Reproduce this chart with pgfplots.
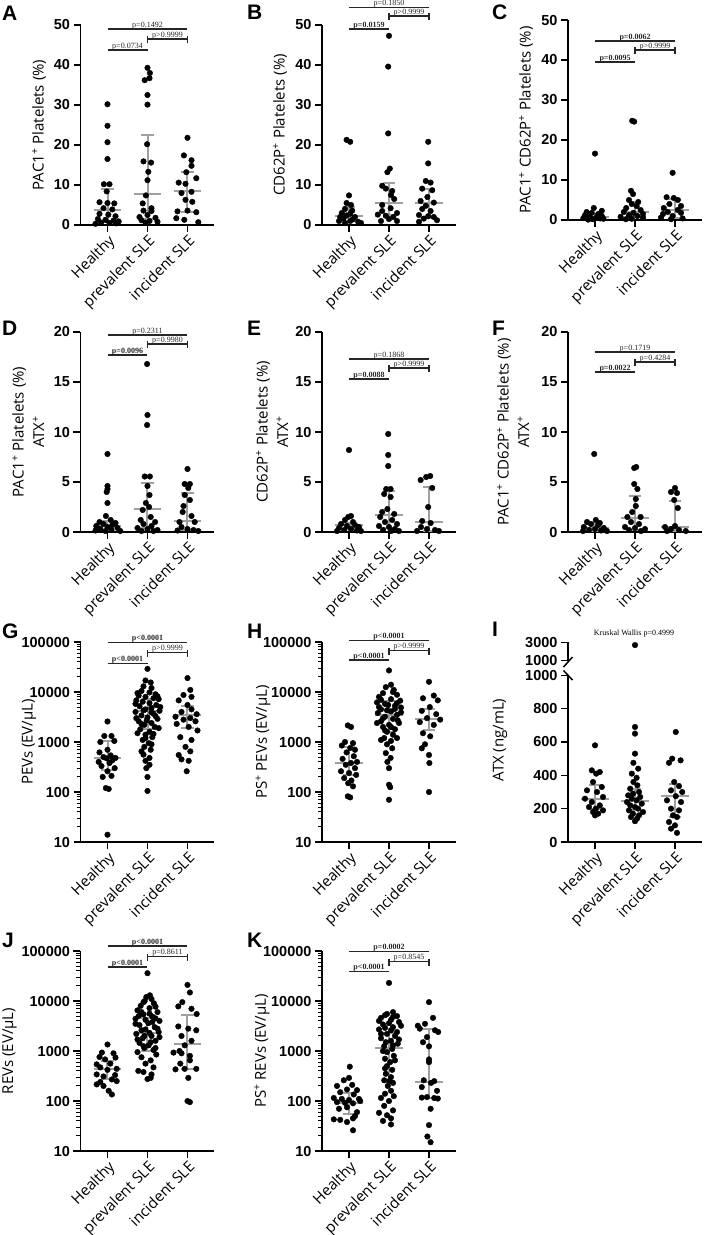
\documentclass[border=0pt]{standalone}
\usepackage{pgfplots}
\pgfplotsset{compat=1.18}
\usepackage{fontspec}
\setmainfont{Open Sans}
\newfontfamily\arialf{Liberation Sans}
\newfontfamily\timesf{Liberation Serif}
\newcommand\lab{\fontsize{15}{20.5}\selectfont}
\newcommand\tck{\arialf\bfseries\fontsize{14.5}{15}\selectfont}
\newcommand\ptxt{\timesf\fontsize{8}{9}\selectfont}
\newcommand\letf{\arialf\bfseries\fontsize{21}{21}\selectfont}
\definecolor{medgray}{RGB}{160,160,160}
\pgfplotsset{
 panel/.style={
   scale only axis, width=134pt, height=200pt, anchor=south west,
   xmin=-0.675, xmax=2.675, xtick={0,1,2},
   xticklabels={Healthy,prevalent SLE,incident SLE},
   axis x line*=bottom, axis y line*=left,
   axis line style={-, line width=1.5pt},
   major tick style={line width=1.5pt, black},
   minor tick style={line width=1pt, black},
   tick align=outside, major tick length=7pt, minor tick length=4pt,
   clip=false,
   xticklabel style={font=\lab, rotate=45, anchor=north east, inner sep=1pt},
   yticklabel style={font=\tck},
   ylabel style={font=\lab, anchor=center, align=center},
   /pgf/number format/assume math mode=true,
   /pgf/number format/1000 sep={},
 },
 logpanel/.style={panel, ymin=10, ymax=100000,
   ytick={10,100,1000,10000,100000},
   yticklabels={10,100,1000,10000,100000},
   minor ytick={20,30,40,50,60,70,80,90,200,300,400,500,600,700,800,900,2000,3000,4000,5000,6000,7000,8000,9000,20000,30000,40000,50000,60000,70000,80000,90000}},
 dots/.style={only marks, mark=*, mark size=2.8pt, black, mark options={draw=black, fill=black}},
 medline/.style={medgray, line width=2pt, mark=none},
}
\tikzset{sigline/.style={line width=1.3pt, black!85},
 ptx/.style={font=\ptxt, inner sep=0pt, anchor=base, yshift=1.8pt}}
\newcommand{\mq}[4]{%
 \pgfmathsetmacro\qa{#1-0.34}\pgfmathsetmacro\qb{#1+0.34}%
 \pgfmathsetmacro\qc{#1-0.16}\pgfmathsetmacro\qd{#1+0.16}%
 \edef\doit{%
 \noexpand\addplot[medline] coordinates {(\qc,#3) (\qd,#3)};%
 \noexpand\addplot[medline] coordinates {(\qc,#4) (\qd,#4)};%
 \noexpand\addplot[medline] coordinates {(#1,#3) (#1,#4)};%
 \noexpand\addplot[medline] coordinates {(\qa,#2) (\qb,#2)};%
 }\doit}
\newcommand{\sig}[6]{%
 \draw[sigline] (rel axis cs:0.2015,#1) -- node[ptx]{#4} (rel axis cs:0.7985,#1);
 \draw[sigline] (rel axis cs:0.5,#2) -- node[ptx]{#5} (rel axis cs:0.7985,#2);
 \draw[sigline] ([yshift=-4pt]rel axis cs:0.5,#2) -- ([yshift=3pt]rel axis cs:0.5,#2);
 \draw[sigline] ([yshift=-4pt]rel axis cs:0.7985,#2) -- ([yshift=3pt]rel axis cs:0.7985,#2);
 \draw[sigline] (rel axis cs:0.2015,#3) -- node[ptx]{#6} (rel axis cs:0.5,#3);
}
\begin{document}
\begin{tikzpicture}
\useasboundingbox (0,0) rectangle (704pt,-1235pt);
% ---------------- A
\begin{axis}[panel, at={(80.5pt,-225pt)}, ymin=0, ymax=50, ytick={0,10,...,50},
 ylabel={PAC1\textsuperscript{+} Platelets (\%)}, ylabel style={at={(axis description cs:-0.31,0.5)}}]
\addplot[dots] coordinates {(0,30.2)(0,24.8)(0,20.7)(0,16.5)(-0.09,10.2)(0.05,10.2)(-0.02,8.4)(-0.2,5.7)(0.0,5.5)(0.17,5.4)(-0.1,4.2)(0.12,3.9)(-0.2,2.8)(0.02,2.6)(0.2,2.2)(-0.24,1.5)(-0.05,1.3)(0.15,1.1)(0.28,0.9)(-0.16,0.6)(0.05,0.5)(0.22,0.4)(-0.3,0.3)};
\addplot[dots] coordinates {(1,39.3)(1.06,38.0)(0.93,36.2)(1.05,36.7)(1,32.5)(1,30.1)(0.99,20.2)(0.9,15.9)(1.09,15.6)(1.02,13.3)(1,11.2)(0.96,7.4)(0.88,5.4)(1.1,4.2)(0.9,3.6)(1.1,3.5)(1.0,2.5)(0.8,2.0)(1.2,1.8)(0.85,1.2)(1.05,1.0)(1.25,0.8)(0.95,0.6)};
\addplot[dots] coordinates {(2,21.8)(1.91,17.4)(2.1,16.2)(2.1,14.8)(1.97,13.2)(2.22,11.7)(1.78,10.6)(1.95,10.3)(2.1,8.3)(1.85,8.0)(1.95,6.3)(2.12,5.8)(1.75,3.4)(2.0,3.6)(2.22,3.2)(1.72,1.7)(1.92,1.3)(2.27,0.7)};
\mq{0}{3.7}{0.8}{8.9}\mq{1}{7.7}{1.5}{22.6}\mq{2}{8.6}{3.3}{13.2}
\sig{0.98}{0.93}{0.875}{p=0.1492}{p>0.9999}{p=0.0734}
\end{axis}
% ---------------- B
\begin{axis}[panel, at={(322pt,-225pt)}, ymin=0, ymax=50, ytick={0,10,...,50},
 ylabel={CD62P\textsuperscript{+} Platelets (\%)}, ylabel style={at={(axis description cs:-0.313,0.5)}}]
\addplot[dots] coordinates {(-0.06,21.3)(0.03,20.8)(0,7.4)(-0.06,5.5)(0.05,5.0)(-0.1,4.0)(0.08,3.6)(-0.18,3.0)(0.03,2.8)(-0.06,2.4)(-0.22,2.0)(0.15,2.0)(-0.14,1.6)(0.1,1.4)(-0.25,1.0)(0.03,1.0)(0.23,0.8)(-0.1,0.5)(0.3,0.5)};
\addplot[dots] coordinates {(1,47.3)(0.98,39.6)(0.98,22.9)(1.02,14.1)(0.96,13.2)(0.83,9.8)(0.92,9.1)(1.08,8.5)(1.05,7.5)(1.13,6.5)(0.83,5.0)(1.04,4.2)(0.83,3.5)(1.2,3.0)(0.72,2.6)(0.92,2.3)(1.11,2.0)(1.0,1.5)(0.8,1.0)(1.2,1.0)};
\addplot[dots] coordinates {(1.98,20.8)(1.98,15.4)(1.92,11.0)(2.04,10.6)(1.83,9.1)(2.08,8.7)(1.96,7.0)(1.79,6.0)(2.12,5.6)(1.92,4.8)(1.83,4.0)(2.04,3.5)(1.75,2.5)(1.98,2.2)(2.12,2.0)(1.87,1.6)(2.2,1.2)(1.75,0.8)};
\mq{0}{2.3}{1.7}{4.4}\mq{1}{5.6}{2.6}{10.5}\mq{2}{5.6}{1.8}{9.0}
\sig{1.087}{1.045}{0.98}{p=0.1850}{p>0.9999}{\textbf{p=0.0159}}
\end{axis}
% ---------------- C
\begin{axis}[panel, at={(568pt,-220pt)}, ymin=0, ymax=50, ytick={0,10,...,50},
 ylabel={PAC1\textsuperscript{+} CD62P\textsuperscript{+} Platelets (\%)}, ylabel style={at={(axis description cs:-0.313,0.5)}}]
\addplot[dots] coordinates {(0,16.6)(-0.03,3.0)(0.17,2.3)(-0.21,2.0)(-0.08,1.8)(0.08,1.5)(-0.25,1.2)(0.17,1.0)(-0.13,0.8)(0.03,0.6)(-0.29,0.5)(0.21,0.3)(-0.06,0.2)(-0.17,0.1)(0.13,0.4)};
\addplot[dots] coordinates {(0.93,24.8)(0.98,24.6)(0.9,7.3)(0.95,6.5)(0.85,5.0)(1.08,4.5)(0.92,4.0)(1.04,3.5)(0.78,3.0)(1.14,2.5)(0.72,2.0)(0.96,1.8)(1.2,1.5)(0.85,1.2)(1.06,1.0)(0.64,0.8)(1.2,0.6)(0.92,0.3)(0.77,0.2)};
\addplot[dots] coordinates {(1.94,11.8)(1.79,5.7)(1.97,5.5)(2.07,5.0)(1.86,4.0)(2.15,3.5)(1.72,3.0)(2.07,2.5)(1.82,2.0)(2.15,1.8)(1.7,1.5)(1.94,1.0)(1.65,0.6)(2.19,0.4)(1.9,0.2)};
\mq{0}{0.8}{0.3}{1.6}\mq{1}{2.0}{0.7}{4.5}\mq{2}{2.5}{0.5}{5.3}
\sig{0.895}{0.85}{0.79}{\textbf{p=0.0062}}{p>0.9999}{\textbf{p=0.0095}}
\end{axis}
% ---------------- D
\begin{axis}[panel, at={(80.5pt,-532pt)}, ymin=0, ymax=20, ytick={0,5,...,20},
 ylabel={PAC1\textsuperscript{+} Platelets (\%)\\ATX\textsuperscript{+}}, ylabel style={at={(axis description cs:-0.39,0.5)}}]
\addplot[dots] coordinates {(0,7.8)(0,4.6)(0,4.3)(-0.02,4.0)(0,2.9)(-0.04,1.6)(0.08,1.2)(-0.2,1.0)(0.2,0.9)(-0.1,0.8)(0.12,0.7)(-0.28,0.6)(0.0,0.5)(0.25,0.4)(-0.18,0.3)(0.1,0.2)(-0.05,0.1)(0.32,0.1)(-0.3,0.15)};
\addplot[dots] coordinates {(0.99,16.8)(1,11.7)(0.99,10.7)(0.93,5.55)(1.06,5.55)(1,4.6)(1.05,3.7)(0.96,2.9)(1.04,2.5)(0.88,2.2)(1.08,1.5)(0.83,1.2)(1.19,1.0)(0.9,0.8)(1.1,0.6)(0.75,0.4)(1.0,0.3)(1.25,0.2)(0.85,0.1)(1.15,0.1)};
\addplot[dots] coordinates {(2,6.3)(1.93,4.8)(2.06,4.8)(2.02,4.4)(1.93,3.7)(2.06,3.2)(1.9,2.6)(1.88,2.0)(2.1,1.6)(1.8,1.0)(2.18,1.0)(1.85,0.5)(2.0,0.3)(2.15,0.2)(2.27,0.1)(1.75,0.15)};
\mq{0}{0.65}{0.25}{1.1}\mq{1}{2.3}{0.4}{4.9}\mq{2}{1.1}{0.2}{3.9}
\sig{0.985}{0.94}{0.885}{p=0.2311}{p=0.9980}{\textbf{p=0.0096}}
\end{axis}
% ---------------- E
\begin{axis}[panel, at={(322pt,-532pt)}, ymin=0, ymax=20, ytick={0,5,...,20},
 ylabel={CD62P\textsuperscript{+} Platelets (\%)\\ATX\textsuperscript{+}}, ylabel style={at={(axis description cs:-0.373,0.5)}}]
\addplot[dots] coordinates {(0,8.2)(0.05,1.6)(-0.02,1.5)(-0.1,1.2)(0.1,1.0)(-0.2,0.8)(0.15,0.7)(-0.05,0.6)(0.25,0.5)(-0.25,0.4)(0.05,0.3)(-0.12,0.2)(0.2,0.15)(-0.3,0.1)(0.3,0.1)};
\addplot[dots] coordinates {(0.98,9.8)(0.98,7.7)(0.98,6.6)(0.93,4.3)(1.04,4.3)(0.88,3.8)(1.04,3.5)(0.96,2.3)(0.83,2.0)(1.13,1.8)(0.78,1.5)(1.08,1.2)(0.9,1.0)(1.2,0.8)(0.75,0.6)(1.0,0.5)(1.15,0.3)(0.85,0.2)(1.05,0.1)(1.25,0.1)};
\addplot[dots] coordinates {(1.93,5.5)(2.03,5.6)(1.79,5.2)(2.08,4.4)(1.98,2.5)(1.83,1.1)(2.04,0.9)(1.8,0.5)(1.95,0.3)(2.15,0.2)(2.25,0.1)(1.7,0.1)};
\mq{0}{0.7}{0.3}{0.9}\mq{1}{1.7}{0.4}{4.1}\mq{2}{1.0}{0.15}{4.5}
\sig{0.865}{0.82}{0.765}{p=0.1868}{p>0.9999}{\textbf{p=0.0088}}
\end{axis}
% ---------------- F
\begin{axis}[panel, at={(568pt,-532pt)}, ymin=0, ymax=20, ytick={0,5,...,20},
 ylabel={PAC1\textsuperscript{+} CD62P\textsuperscript{+} Platelets (\%)\\ATX\textsuperscript{+}}, ylabel style={at={(axis description cs:-0.41,0.5)}}]
\addplot[dots] coordinates {(-0.02,7.8)(0.02,1.2)(-0.2,1.0)(0.12,0.9)(-0.1,0.8)(0.08,0.7)(-0.28,0.5)(0.22,0.4)(0.0,0.3)(-0.15,0.2)(0.15,0.15)(0.3,0.1)(-0.3,0.1)};
\addplot[dots] coordinates {(0.98,6.4)(1.03,6.5)(0.98,4.8)(1.06,4.3)(1.02,3.3)(1.02,2.6)(0.93,2.0)(0.81,1.5)(1.14,1.5)(0.9,1.0)(1.1,0.8)(0.75,0.5)(1.0,0.4)(1.25,0.3)(0.85,0.2)(1.15,0.1)};
\addplot[dots] coordinates {(2,4.4)(1.9,4.0)(2.05,3.9)(1.98,3.2)(2.07,2.4)(1.75,0.5)(1.9,0.3)(2.1,0.2)(2.27,0.1)(2.0,0.6)(1.8,0.1)};
\mq{0}{0.4}{0.15}{0.9}\mq{1}{1.4}{0.2}{3.6}\mq{2}{0.5}{0.1}{3.1}
\sig{0.9}{0.85}{0.8}{p=0.1719}{p=0.4284}{\textbf{p=0.0022}}
\end{axis}
% ---------------- G
\begin{axis}[logpanel, ymode=log, at={(80.5pt,-842pt)},
 ylabel={PEVs (EV/µL)}, ylabel style={at={(axis description cs:-0.384,0.5)}}]
\addplot[dots] coordinates {(0,2570)(-0.08,1320)(0.1,1320)(-0.18,1000)(0.17,1050)(0,700)(-0.2,620)(0.08,540)(-0.1,500)(0.2,480)(-0.02,470)(0.12,430)(-0.22,400)(0.05,380)(-0.15,330)(0.18,300)(0.0,260)(-0.12,200)(0.1,210)(-0.04,120)(0.03,115)(0,14)};
\addplot[dots] coordinates {(1,29000)(0.95,17000)(1.08,15500)(0.9,13000)(1.1,12000)(0.85,10500)(1.05,9800)(1.2,9000)(0.78,8500)(0.95,8000)(1.15,7500)(1.28,7200)(0.72,6800)(0.88,6400)(1.05,6000)(1.22,5500)(0.8,5200)(1.1,4800)(0.95,4500)(1.3,4200)(0.7,4000)(1.15,3700)(0.85,3400)(1.0,3100)(1.25,2900)(0.78,2600)(1.1,2400)(0.92,2200)(1.18,2000)(0.82,1800)(1.05,1600)(0.95,1400)(1.12,1250)(0.88,1100)(1.03,950)(0.92,800)(1.08,700)(0.9,560)(1.05,480)(0.95,420)(1.05,350)(0.97,300)(1,200)(1,105)(0.75,9500)(1.25,8200)(0.7,5800)(1.32,5000)(0.9,4300)(1.1,3900)(0.72,3000)(1.2,3300)(0.98,2700)(0.85,2300)(1.28,1900)(0.75,1500)(1.15,1450)(0.95,1200)(1.1,900)(0.85,650)};
\addplot[dots] coordinates {(2,19000)(2.07,11000)(1.9,8700)(2.1,8000)(1.78,6800)(2,5500)(2.1,4500)(1.85,4000)(2.23,3600)(1.7,3200)(2.07,3000)(1.9,2800)(2.2,2600)(1.73,2300)(2.03,2000)(2.25,1700)(1.82,1250)(2.1,1100)(1.95,800)(2.07,650)(1.78,550)(1.85,450)(2.03,420)(1.98,260)};
\mq{0}{490}{280}{1070}\mq{1}{4200}{1780}{7400}\mq{2}{3400}{1900}{5300}
\sig{0.997}{0.947}{0.893}{\textbf{p<0.0001}}{p>0.9999}{\textbf{p<0.0001}}
\end{axis}
% ---------------- H
\begin{axis}[logpanel, ymode=log, at={(322pt,-842pt)},
 ylabel={PS\textsuperscript{+} PEVs (EV/µL)}, ylabel style={at={(axis description cs:-0.44,0.5)}}]
\addplot[dots] coordinates {(-0.03,2150)(0.05,2000)(-0.1,1000)(0.1,950)(-0.18,850)(0.03,760)(0.15,700)(-0.06,620)(0.12,520)(-0.16,460)(0.2,400)(0.05,380)(-0.08,350)(0.15,300)(-0.2,260)(0,240)(0.18,220)(-0.12,190)(0.06,170)(-0.02,150)(0.1,130)(-0.03,82)(0.03,78)};
\addplot[dots] coordinates {(1,27000)(1.05,14000)(0.92,12500)(1.12,11000)(0.85,9500)(1.2,8800)(0.75,8000)(1.05,7200)(1.28,6700)(0.7,6200)(0.9,5800)(1.15,5300)(1.3,4900)(0.8,4500)(1.05,4100)(0.72,3800)(1.2,3500)(0.9,3200)(1.1,2900)(0.8,2600)(1.25,2400)(1,2200)(0.85,2000)(1.15,1800)(0.95,1600)(1.1,1400)(0.88,1200)(1.05,1050)(0.95,900)(1.08,750)(0.92,600)(1.04,480)(0.96,400)(1,300)(1,140)(1.03,125)(1,70)(1.1,10000)(0.8,7000)(1.2,6000)(0.98,5500)(0.75,5000)(1.15,4600)(0.95,4300)(1.3,3900)(0.85,3000)(1.22,2700)(0.7,2400)(1.05,2000)(0.9,1700)(1.2,1200)(0.8,1100)};
\addplot[dots] coordinates {(2,16000)(2.12,8500)(1.85,7500)(2.22,6800)(2.02,5000)(1.82,4200)(2.18,3600)(1.95,3000)(2.28,2800)(1.77,2500)(2.12,2200)(1.85,1500)(2.03,1300)(1.9,900)(1.82,750)(2,550)(2.01,380)(2,100)};
\mq{0}{380}{220}{780}\mq{1}{3500}{1600}{6500}\mq{2}{2900}{1700}{4500}
\sig{1.007}{0.957}{0.91}{\textbf{p<0.0001}}{p>0.9999}{\textbf{p<0.0001}}
\end{axis}
% ---------------- I (lower)
\begin{axis}[panel, at={(568pt,-842pt)}, height=166.7pt, ymin=0, ymax=1000, ytick={0,200,...,1000},
 ylabel={ATX (ng/mL)}, ylabel style={at={(axis description cs:-0.507,0.612)}}]
\addplot[dots] coordinates {(0,580)(-0.08,430)(0.12,420)(0.03,410)(-0.05,360)(0.17,330)(-0.2,310)(0.05,300)(0.2,270)(-0.25,260)(-0.08,240)(0.12,220)(-0.15,210)(0.02,200)(0.2,190)(-0.05,180)(0.08,170)(0,160)};
\addplot[dots] coordinates {(1,690)(1,650)(1,530)(0.96,475)(1.08,440)(0.92,410)(1.04,385)(0.96,360)(1.06,340)(0.88,320)(1.1,300)(0.95,290)(0.83,280)(1.13,270)(0.92,260)(1.04,250)(0.8,240)(1.17,230)(0.88,220)(1,210)(1.08,200)(0.85,190)(1.2,180)(0.95,170)(1.1,160)(0.9,150)(1.05,140)(1,125)};
\addplot[dots] coordinates {(2.02,660)(1.93,500)(2.14,490)(1.85,475)(1.98,360)(2.1,335)(1.9,310)(2.18,300)(2.02,275)(1.8,250)(2.15,240)(1.9,200)(2.1,190)(1.95,160)(2.05,150)(1.85,120)(2,100)(1.9,80)(2.05,55)};
\mq{0}{260}{200}{340}\mq{1}{245}{190}{320}\mq{2}{275}{150}{350}
\end{axis}
% ---------------- I (upper)
\begin{axis}[panel, at={(568pt,-660.7pt)}, height=18.4pt, ymin=1000, ymax=3000, ytick={1000,3000},
 axis x line=none, xtick=\empty]
\addplot[dots] coordinates {(1,2700)};
\end{axis}
\draw[line width=1.5pt] (563.5pt,-667pt) -- (572.5pt,-657pt);
\draw[line width=1.5pt] (563.5pt,-670.5pt) -- (572.5pt,-680pt);
\node[font=\ptxt] at (634pt,-634pt) {Kruskal Wallis p=0.4999};
% ---------------- J
\begin{axis}[logpanel, ymode=log, at={(80.5pt,-1151pt)},
 ylabel={REVs (EV/µL)}, ylabel style={at={(axis description cs:-0.53,0.5)}}]
\addplot[dots] coordinates {(0,1350)(-0.14,930)(0.15,900)(-0.2,760)(0.2,740)(-0.06,680)(-0.27,540)(0.07,560)(-0.18,470)(0.23,440)(0,420)(-0.27,340)(0.19,330)(-0.1,310)(0.11,270)(-0.18,240)(0.23,250)(-0.27,215)(-0.1,200)(0.03,160)(0.11,135)};
\addplot[dots] coordinates {(1,36000)(1.06,13000)(0.97,12000)(1.1,11000)(0.93,10000)(1.16,9000)(0.83,8000)(1.05,7200)(0.75,6500)(1.25,6000)(0.9,5400)(1.12,4900)(0.7,4400)(1.3,4000)(1.02,3600)(0.8,3300)(1.18,3000)(0.95,2700)(1.28,2400)(0.72,2200)(1.1,2000)(0.88,1800)(1.2,1600)(0.8,1450)(1.03,1300)(0.92,1150)(1.15,1050)(0.75,950)(1.22,850)(0.85,750)(1.08,650)(0.95,560)(1.15,470)(0.77,400)(0.9,380)(1.1,340)(1.08,290)(1,275)(0.9,9500)(1.2,7700)(0.85,6000)(1.05,5600)(0.78,5000)(1.2,4500)(0.95,4200)(1.12,3800)(0.7,3500)(1.25,2800)(0.85,2600)(1.05,2300)(0.92,2000)(1.3,1900)(0.75,1700)(1.08,1500)(0.9,1250)(1.2,1150)};
\addplot[dots] coordinates {(2,21000)(2.06,14800)(1.87,9500)(1.77,7800)(2.1,7000)(2.23,5500)(1.77,3100)(2.02,2800)(2.22,2600)(1.85,2000)(2.1,1600)(1.93,1300)(1.8,1000)(2.06,800)(1.65,930)(1.85,900)(2.06,650)(1.82,560)(1.93,440)(1.7,430)(2.22,440)(2.02,290)(2,100)(2.06,95)};
\mq{0}{430}{280}{620}\mq{1}{2300}{1000}{4500}\mq{2}{1400}{440}{5300}
\sig{1.025}{0.972}{0.92}{\textbf{p<0.0001}}{p=0.8611}{\textbf{p<0.0001}}
\end{axis}
% ---------------- K
\begin{axis}[logpanel, ymode=log, at={(322pt,-1151pt)},
 ylabel={PS\textsuperscript{+} REVs (EV/µL)}, ylabel style={at={(axis description cs:-0.448,0.5)}}]
\addplot[dots] coordinates {(0.02,485)(0,290)(-0.13,260)(-0.3,200)(0.08,210)(-0.05,170)(0.2,165)(-0.22,150)(0.12,135)(-0.38,115)(-0.18,110)(0,105)(0.25,110)(-0.3,95)(-0.1,92)(0.1,90)(0.28,100)(-0.05,75)(-0.25,70)(0.2,60)(-0.38,43)(-0.22,42)(-0.05,38)(0.15,50)(0.1,45)(0.1,26)};
\addplot[dots] coordinates {(1,23000)(1.1,6000)(0.95,5500)(1.2,5000)(0.8,4600)(1.05,4200)(1.25,3800)(0.85,3400)(1.1,3000)(0.75,2700)(1.2,2400)(0.95,2200)(1.15,2000)(0.8,1800)(1.05,1600)(1.22,1400)(0.88,1250)(1.08,1100)(0.95,950)(1.12,800)(0.9,700)(1.03,600)(0.95,500)(1.08,420)(0.92,350)(1.05,300)(0.88,260)(1.1,230)(0.97,200)(1.05,160)(0.9,140)(1.12,125)(0.8,115)(1,100)(0.88,80)(1.1,65)(0.75,58)(0.95,52)(1.05,45)(0.85,40)(1.05,34)(0.9,5200)(1.1,4800)(0.75,4000)(1.0,3600)(1.3,3200)(0.9,2900)(1.05,2600)(0.8,2200)(1.25,1700)(0.92,1500)(1.1,1300)(0.85,1000)(1.15,650)(0.9,450)(1.0,250)};
\addplot[dots] coordinates {(2,9500)(2.1,4600)(1.9,3500)(1.72,3200)(1.77,2800)(2.15,2600)(2.23,2400)(1.95,1900)(1.85,1500)(2,1240)(2,680)(2,600)(1.87,260)(2.13,250)(2.05,230)(1.82,190)(2.2,160)(1.95,120)(1.82,117)(2.13,115)(2.22,112)(2.04,70)(2,33)(1.96,19.5)(2.04,15)};
\mq{0}{92}{54}{147}\mq{1}{1150}{257}{2300}\mq{2}{245}{117}{2700}
\sig{0.997}{0.947}{0.897}{\textbf{p=0.0002}}{p=0.8545}{\textbf{p<0.0001}}
\end{axis}
% ---------------- panel letters
\node[font=\letf, anchor=base west, inner sep=0] at (2pt,-20pt) {A};
\node[font=\letf, anchor=base west, inner sep=0] at (247pt,-19pt) {B};
\node[font=\letf, anchor=base west, inner sep=0] at (492pt,-19pt) {C};
\node[font=\letf, anchor=base west, inner sep=0] at (2pt,-335pt) {D};
\node[font=\letf, anchor=base west, inner sep=0] at (247pt,-335pt) {E};
\node[font=\letf, anchor=base west, inner sep=0] at (492pt,-335pt) {F};
\node[font=\letf, anchor=base west, inner sep=0] at (2pt,-638pt) {G};
\node[font=\letf, anchor=base west, inner sep=0] at (247pt,-638pt) {H};
\node[font=\letf, anchor=base west, inner sep=0] at (492pt,-636pt) {I};
\node[font=\letf, anchor=base west, inner sep=0] at (2pt,-947pt) {J};
\node[font=\letf, anchor=base west, inner sep=0] at (247pt,-947pt) {K};
\end{tikzpicture}
\end{document}
